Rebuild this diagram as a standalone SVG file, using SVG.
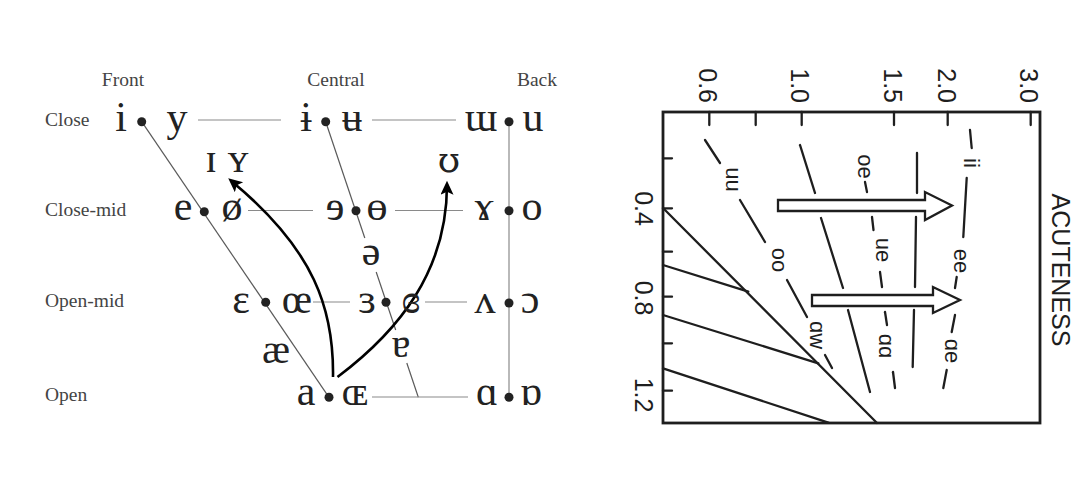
<svg xmlns="http://www.w3.org/2000/svg" width="1074" height="479" viewBox="0 0 1074 479">
<defs>
<style>
.lbl{font-family:"Liberation Serif","DejaVu Serif",serif;font-size:19.5px;fill:#444}
.v{font-family:"Liberation Serif","DejaVu Serif",serif;font-size:42px;fill:#222;text-anchor:middle}
.vd{font-family:"DejaVu Serif","Liberation Serif",serif;font-size:36px;fill:#222;text-anchor:middle}
.dot{fill:#222}
.gl{stroke:#8a8a8a;stroke-width:1.2;fill:none}
.dl{stroke:#5a5a5a;stroke-width:1.2;fill:none}
.arr{stroke:#000;stroke-width:2.6;fill:none;marker-end:url(#ah)}
.ax{font-family:"Liberation Sans","DejaVu Sans",sans-serif;font-size:25px;fill:#1e1e1e}
.cl{font-family:"Liberation Sans","DejaVu Sans",sans-serif;font-size:22px;fill:#1e1e1e;text-anchor:middle}
.ln{stroke:#1e1e1e;stroke-width:2.3;fill:none;stroke-linecap:round}
.box{stroke:#1e1e1e;stroke-width:2.8;fill:none}
.blk{stroke:#1e1e1e;stroke-width:2.3;fill:#fff;stroke-linejoin:miter}
</style>
<marker id="ah" markerWidth="16" markerHeight="14" refX="10" refY="6.5" orient="auto" markerUnits="userSpaceOnUse">
<path d="M0,0 L14,6.5 L0,13 L3,6.5 z" fill="#000"/>
</marker>
</defs>
<rect width="1074" height="479" fill="#fff"/>

<!-- LEFT: vowel chart -->
<g id="connectors">
<line class="dl" x1="141.7" y1="121.7" x2="329" y2="397.3"/>
<line class="dl" x1="325.7" y1="121.7" x2="364.8" y2="238"/>
<line class="dl" x1="376.2" y1="272" x2="395.7" y2="330"/>
<line class="dl" x1="406.8" y1="363" x2="418.3" y2="397.3"/>
<line class="gl" x1="509" y1="121.7" x2="509" y2="397.3"/>
<line class="gl" x1="198" y1="120" x2="281" y2="120"/>
<line class="gl" x1="372" y1="120" x2="456" y2="120"/>
<line class="gl" x1="248" y1="210.5" x2="313" y2="210.5"/>
<line class="gl" x1="395" y1="210.5" x2="463" y2="210.5"/>
<line class="gl" x1="313" y1="302" x2="350" y2="302"/>
<line class="gl" x1="425" y1="302" x2="467" y2="302"/>
<line class="gl" x1="372" y1="397" x2="468" y2="397"/>
<path class="arr" d="M333,377 C334,310 315,250 231.3,180.9"/>
<path class="arr" d="M337.5,377 C400,330 447,270 447,184.7"/>
</g>

<g id="labels-columns">
<text class="lbl" x="123" y="86" text-anchor="middle">Front</text>
<text class="lbl" x="336" y="86" text-anchor="middle">Central</text>
<text class="lbl" x="537" y="86" text-anchor="middle">Back</text>
</g>
<g id="labels-rows">
<text class="lbl" x="45" y="126">Close</text>
<text class="lbl" x="45" y="216">Close-mid</text>
<text class="lbl" x="45" y="307">Open-mid</text>
<text class="lbl" x="45" y="401">Open</text>
</g>

<g id="close-front"><text class="v" x="121" y="131">i</text><circle class="dot" cx="141.7" cy="121.7" r="4.5"/><text class="v" x="177" y="131">y</text></g>
<g id="close-central"><text class="v" x="306" y="131">ɨ</text><circle class="dot" cx="325.7" cy="121.7" r="4.5"/><text class="v" x="352" y="131">ʉ</text></g>
<g id="close-back"><text class="v" x="481" y="131">ɯ</text><circle class="dot" cx="509" cy="121.7" r="4.5"/><text class="v" x="533" y="131">u</text></g>

<g id="near-close"><text class="v" x="211" y="172">ɪ</text><text class="v" x="238" y="172">ʏ</text></g>
<g id="near-close-back"><text class="vd" x="449" y="172">ʊ</text></g>

<g id="closemid-front"><text class="v" x="183" y="220">e</text><circle class="dot" cx="204.3" cy="211.7" r="4.5"/><text class="v" x="232" y="220">ø</text></g>
<g id="closemid-central"><text class="v" x="335" y="220">ɘ</text><circle class="dot" cx="356" cy="210.7" r="4.5"/><text class="v" x="377" y="220">ɵ</text></g>
<g id="closemid-back"><text class="v" x="484" y="220">ɤ</text><circle class="dot" cx="509" cy="210.7" r="4.5"/><text class="v" x="532" y="220">o</text></g>

<g id="mid-central"><text class="v" x="371" y="265">ə</text></g>

<g id="openmid-front"><text class="v" x="241" y="313">ɛ</text><circle class="dot" cx="265.7" cy="302.3" r="4.5"/><text class="v" x="297" y="313">œ</text></g>
<g id="openmid-central"><text class="v" x="367" y="313">ɜ</text><circle class="dot" cx="386" cy="302.3" r="4.5"/><text class="v" x="411" y="313">ɞ</text></g>
<g id="openmid-back"><text class="v" x="485" y="313">ʌ</text><circle class="dot" cx="509" cy="303" r="4.5"/><text class="v" x="530" y="313">ɔ</text></g>

<g id="near-open-front"><text class="v" x="276" y="363">æ</text></g>
<g id="near-open-central"><text class="v" x="401" y="357">ɐ</text></g>

<g id="open-front"><text class="v" x="306" y="405">a</text><circle class="dot" cx="329" cy="397.3" r="4.5"/><text class="v" x="355" y="405">ɶ</text></g>
<g id="open-back"><text class="v" x="487" y="405">ɑ</text><circle class="dot" cx="509" cy="397.3" r="4.5"/><text class="v" x="531" y="405">ɒ</text></g>

<!-- RIGHT: rotated acuteness chart -->
<g id="chart-frame">
<rect class="box" x="663" y="112" width="377" height="311"/>
<g class="ln">
<line x1="709.3" y1="112" x2="709.3" y2="125"/>
<line x1="755.7" y1="112" x2="755.7" y2="125"/>
<line x1="801.7" y1="112" x2="801.7" y2="125"/>
<line x1="894" y1="112" x2="894" y2="125"/>
<line x1="947.7" y1="112" x2="947.7" y2="125"/>
<line x1="1030.7" y1="112" x2="1030.7" y2="125"/>
<line x1="663" y1="158.3" x2="672" y2="158.3"/>
<line x1="663" y1="208.3" x2="672" y2="208.3"/>
<line x1="663" y1="251.7" x2="672" y2="251.7"/>
<line x1="663" y1="296.7" x2="672" y2="296.7"/>
<line x1="663" y1="343.3" x2="672" y2="343.3"/>
<line x1="663" y1="390.7" x2="672" y2="390.7"/>
</g>
</g>
<g id="axis-top-labels">
<text class="ax" transform="translate(708,103) rotate(90)" text-anchor="end" dy="0.36em">0.6</text>
<text class="ax" transform="translate(800,103) rotate(90)" text-anchor="end" dy="0.36em">1.0</text>
<text class="ax" transform="translate(893,103) rotate(90)" text-anchor="end" dy="0.36em">1.5</text>
<text class="ax" transform="translate(947,103) rotate(90)" text-anchor="end" dy="0.36em">2.0</text>
<text class="ax" transform="translate(1029,103) rotate(90)" text-anchor="end" dy="0.36em">3.0</text>
</g>
<g id="axis-left-labels">
<text class="ax" transform="translate(644,208.5) rotate(90)" text-anchor="middle" dy="0.36em">0.4</text>
<text class="ax" transform="translate(644,298) rotate(90)" text-anchor="middle" dy="0.36em">0.8</text>
<text class="ax" transform="translate(644,395) rotate(90)" text-anchor="middle" dy="0.36em">1.2</text>
</g>
<g id="axis-title">
<text class="ax" transform="translate(1061,270) rotate(90)" text-anchor="middle" dy="0.36em">ACUTENESS</text>
</g>

<g id="chart-lines" class="ln">
<line x1="663" y1="208" x2="877" y2="423"/>
<line x1="663" y1="265" x2="748.3" y2="291.7"/>
<line x1="663" y1="315" x2="818.3" y2="363.3"/>
<line x1="663" y1="368.3" x2="828.3" y2="422.7"/>
<line x1="705" y1="140" x2="720" y2="163"/>
<line x1="740" y1="200" x2="765" y2="242"/>
<line x1="787" y1="280" x2="807" y2="317"/>
<line x1="825" y1="355" x2="832" y2="368"/>
<line x1="800" y1="145" x2="815" y2="193"/>
<line x1="821" y1="218" x2="843" y2="288"/>
<line x1="848" y1="310" x2="870" y2="392"/>
<line x1="865" y1="182" x2="867" y2="192"/>
<line x1="872" y1="217" x2="873.5" y2="230"/>
<line x1="880" y1="272" x2="882" y2="287"/>
<line x1="885" y1="312" x2="887" y2="325"/>
<line x1="893" y1="372" x2="895" y2="388"/>
<line x1="917" y1="153" x2="917" y2="193"/>
<line x1="916" y1="217" x2="915" y2="287"/>
<line x1="914" y1="310" x2="912.7" y2="367"/>
<line x1="970" y1="130" x2="971.7" y2="148"/>
<line x1="966.7" y1="178" x2="963.3" y2="237"/>
<line x1="956.7" y1="277" x2="955" y2="288"/>
<line x1="955" y1="315" x2="951.7" y2="332"/>
<line x1="946.7" y1="370" x2="943.3" y2="388"/>
</g>

<g id="contour-labels">
<text class="cl" transform="translate(731.5,179.5) rotate(90)" dy="0.26em">uu</text>
<text class="cl" transform="translate(777.5,260) rotate(90)" dy="0.26em">oo</text>
<text class="cl" transform="translate(815.5,335) rotate(90)" dy="0.26em">ɑw</text>
<text class="cl" transform="translate(863.5,166.5) rotate(90)" dy="0.26em">oe</text>
<text class="cl" transform="translate(881.5,250) rotate(90)" dy="0.26em">ue</text>
<text class="cl" transform="translate(884.5,346) rotate(90)" dy="0.26em">ɑɑ</text>
<text class="cl" transform="translate(970,163) rotate(90)" dy="0.26em">ii</text>
<text class="cl" transform="translate(959.5,261) rotate(90)" dy="0.26em">ee</text>
<text class="cl" transform="translate(951,351) rotate(90)" dy="0.26em">ɑe</text>
</g>

<g id="shift-arrow-1">
<path class="blk" d="M778,200 L925,200 L925,192 L952,205.5 L925,220 L925,211 L778,211 Z"/>
</g>
<g id="shift-arrow-2">
<path class="blk" d="M812,295 L933,295 L933,287 L960,300 L933,313 L933,306 L812,306 Z"/>
</g>
</svg>
